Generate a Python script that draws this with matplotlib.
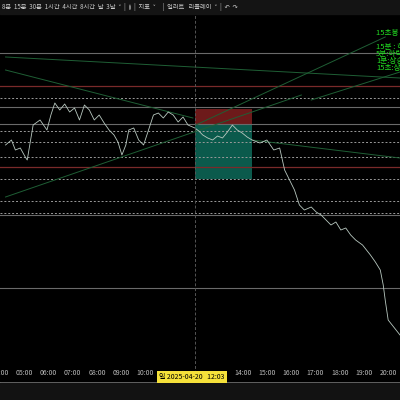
import matplotlib
matplotlib.use("Agg")
import matplotlib.pyplot as plt
import matplotlib.patches as mpatches

plt.rcParams['font.family'] = ['Noto Sans CJK KR', 'DejaVu Sans']

# price path (x pixel, y pixel)
PATH_X = [0, 6, 10, 15, 20, 22, 28, 35, 42, 46, 50, 55, 60, 65, 70, 75, 80, 85, 90, 95, 100, 105,
          110, 114, 118, 122, 125, 130, 135, 140, 145, 150, 155, 160, 165, 170, 175, 180, 185,
          192, 196, 200, 205, 210, 215, 220, 225, 230, 235, 240, 245, 250, 258, 265, 272, 278,
          283, 288, 293, 298, 303, 310, 315, 320, 325, 330, 335, 340, 345, 350, 355, 362, 366,
          370, 375, 380, 383, 385, 388, 392, 396, 400]
PATH_Y = [145, 140, 150, 148, 157, 160, 125, 120, 130, 115, 103, 110, 104, 112, 108, 120, 105, 110,
          120, 115, 123, 130, 135, 142, 155, 145, 130, 128, 140, 145, 130, 115, 113, 118, 112,
          115, 122, 117, 125, 128, 131, 135, 138, 140, 136, 138, 132, 125, 130, 133, 137, 140,
          143, 140, 150, 148, 170, 180, 190, 205, 210, 207, 212, 215, 220, 225, 222, 230, 228,
          235, 240, 245, 250, 255, 262, 270, 285, 300, 320, 325, 330, 335]

SOLID_LEVELS = [53, 107, 124, 215, 288]
RED_LEVELS = [86, 167]
DOTTED_LEVELS = [98, 131, 142, 157, 179, 201, 213]

TREND_LINES = [((0, 57), (400, 78)), ((0, 70), (190, 118)), ((250, 140), (400, 158)),
               ((0, 197), (300, 95)), ((193, 125), (385, 37)), ((310, 100), (400, 72))]

HOURS = list(range(4, 21))
NOTES = ["15초봉 분석", "15분 : 하락", "5분:하락추세", "1분:상승전환", "15초:상승"]
NOTE_Y = [33, 47, 54, 61, 68]


def hx(px):
    return 5 + (px - 19) / 24.6


def py(y):
    return 400 - y


fig = plt.figure(figsize=(4, 4), dpi=100, facecolor="#000000")
ax = fig.add_axes([0, 17 / 400, 1, 371 / 400])
ax.set_facecolor("#000000")
ax.set_xlim(hx(0), hx(400))
ax.set_ylim(17, 388)

for y in SOLID_LEVELS:
    ax.axhline(py(y), color="#6a6a6a", lw=0.8)
for y in RED_LEVELS:
    ax.axhline(py(y), color="#7a2a2a", lw=0.9)
for y in DOTTED_LEVELS:
    ax.axhline(py(y), color="#9a9a9a", lw=0.7, ls=(0, (2, 2)))

for (x0, y0), (x1, y1) in TREND_LINES:
    ax.plot([hx(x0), hx(x1)], [py(y0), py(y1)], color="#1f5f35", lw=0.7)

# position box
ax.add_patch(mpatches.Rectangle((hx(192), py(124)), hx(250) - hx(192), 15,
                                color="#7a1e1e", alpha=0.9, lw=0))
ax.add_patch(mpatches.Rectangle((hx(192), py(179)), hx(250) - hx(192), 55,
                                color="#0d6b5a", alpha=0.85, lw=0))

ax.plot([hx(x) for x in PATH_X], [py(y) for y in PATH_Y], color="#b8c8c0", lw=0.6)

ax.axvline(hx(192), color="#555555", lw=0.7, ls=(0, (3, 2)))

ax.set_xticks(HOURS)
ax.set_xticklabels([f"{h:02d}:00" if h not in (11, 12, 13) else "" for h in HOURS])
ax.tick_params(axis="x", direction="in", length=0, pad=-10, labelsize=5, colors="#bbbbbb")
ax.set_yticks([])
for s in ax.spines.values():
    s.set_visible(False)
ax.axhline(17, color="#888888", lw=1.2)

fig.text(192 / 400, 1 - 377 / 400, "일 2025-04-20   12:03", fontsize=5, color="#000000",
         ha="center", va="center",
         bbox=dict(boxstyle="square,pad=0.35", fc="#f5e13a", ec="none"))

for t, y in zip(NOTES, NOTE_Y):
    fig.text(376 / 400, 1 - y / 400, t, fontsize=5.5, color="#22dd22", va="center")

# toolbar
fig.patches.append(mpatches.Rectangle((0, 1 - 14 / 400), 1, 14 / 400, transform=fig.transFigure,
                                      color="#141414", zorder=5))
fig.text(0.005, 1 - 7 / 400, "8분  15분  30분  1시간  4시간  8시간  날  3날  ˅  |  ≬  |  지표  ˅     |  얼러트   리플레이  ˅  |  ↶  ↷",
         fontsize=4.5, color="#cccccc", va="center", zorder=6)
fig.patches.append(mpatches.Rectangle((0, 0), 1, 17 / 400, transform=fig.transFigure,
                                      color="#121212", zorder=0))

fig.savefig("out.png", dpi=100, facecolor=fig.get_facecolor())
